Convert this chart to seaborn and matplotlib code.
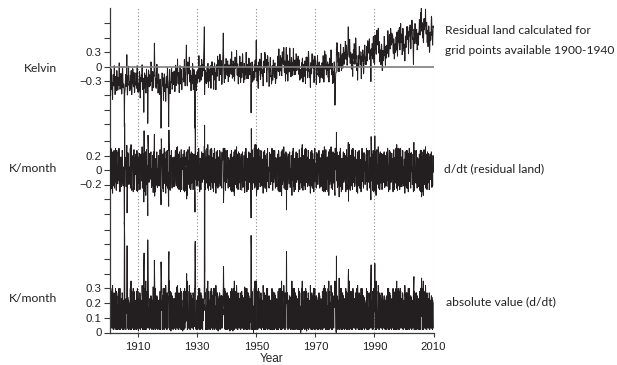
import numpy as np
import pandas as pd
import matplotlib
matplotlib.use("Agg")
import matplotlib.pyplot as plt
import seaborn as sns

# Monthly residual land temperature (hundredths of a kelvin), Jan 1900 .. Dec 2009
resid_cK = [
    -20, -23, -45, -43, -15, -13, -40, -60, -30, -33, -5, -22,      # 1900
    -48, -33, -36, -68, -43, -18, -16, -38, -40, -13, 2, -23,       # 1901
    -42, -58, -55, -25, -20, -22, -50, -35, -8, -10, -27, -30,      # 1902
    -49, -47, -22, -25, -39, -9, 8, -15, -17, -47, -45, -29,        # 1903
    -32, -14, -17, -40, -57, -54, -27, -2, -4, -22, -44, -40,       # 1904
    -36, -38, -50, -125, -60, -51, -48, -31, -16, -18, -41, -28,    # 1905
    -9, 25, -34, -59, -56, -32, -19, -21, 1, -19, -39, -36,         # 1906
    -32, -50, -48, -18, -20, -45, -10, -8, -30, -58, -38, -35,      # 1907
    -20, -4, -7, -37, -42, -40, -12, -27, -54, -52, -35, -32,       # 1908
    -38, -35, -13, -15, -43, -45, -18, 2, -28, -25, -53, -36,       # 1909
    -35, -53, -50, -27, -10, -13, -40, -65, -63, -45, -23, -27,     # 1910
    -16, -31, -28, 4, -21, -46, -48, -26, -24, -51, -95, -41,       # 1911
    -31, -13, -15, -45, -43, -18, -53, -55, -33, -5, -25, -28,      # 1912
    -22, -55, -118, -70, -32, -7, -10, -27, -42, -40, -17, -30,     # 1913
    -40, -37, -15, 10, 7, -17, -30, -28, -50, -30, -10, -13,        # 1914
    -44, -42, -17, -20, 0, 49, 13, -10, -12, -42, -40, -24,         # 1915
    -45, -42, -20, 5, 2, -22, -35, -33, -55, -35, -15, -18,         # 1916
    -33, -36, -58, -56, -28, -26, -53, -80, -128, -85, -50, -35,    # 1917
    -13, -15, -40, -37, -23, -53, -70, -47, -45, -15, -17, -33,     # 1918
    -52, -37, -40, -72, -47, -22, -20, -42, -44, -17, -2, -27,      # 1919
    -30, -48, -75, -125, -70, -43, -8, -6, -28, -56, -36, -33,      # 1920
    -32, -34, -7, -4, -22, -47, -44, -27, -12, -14, -37, -24,       # 1921
    -27, -9, -12, -35, -52, -49, -22, 3, 1, -17, -39, -35,          # 1922
    -4, -19, -16, 16, -9, -34, -36, -14, -12, -39, -54, -29,        # 1923
    -14, 2, -1, -31, -36, -34, -6, -21, -48, -46, -29, -26,         # 1924
    -25, -22, 0, -2, -30, -32, -5, 15, -15, -12, -40, -23,          # 1925
    -16, 2, 20, 45, 5, -3, -38, -40, -18, 10, -10, -13,             # 1926
    0, -15, -12, 20, -5, -30, -32, -10, -8, -35, -50, -25,          # 1927
    -18, -36, -33, -10, 7, 4, -23, -48, -46, -28, -6, -10,          # 1928
    -40, -70, -128, -66, -20, -17, -30, -28, -50, -30, -10, -13,    # 1929
    -34, -32, -7, -10, -24, 6, 23, 0, -2, -32, -30, -14,            # 1930
    0, 2, -25, -28, -10, 15, 12, -5, -20, -18, 5, -8,               # 1931
    0, 16, 35, 50, 83, -58, -30, -7, -34, -32, -15, -12,            # 1932
    -17, -35, -33, -3, -5, -30, 5, 7, -15, -43, -23, -20,           # 1933
    -5, -8, -30, -28, 0, 2, -25, -45, -15, -18, 10, -7,             # 1934
    10, 8, -17, -14, 0, -30, -47, -24, -22, 8, 6, -10,              # 1935
    -28, -13, -16, -48, -23, 2, 4, -18, -20, 7, 22, -3,             # 1936
    -4, 14, 11, -12, -29, -26, 1, 26, 24, 6, -16, -12,              # 1937
    13, 10, -12, -37, -34, -10, 3, 20, 40, 70, 25, -5,              # 1938
    -17, -33, -30, 0, 5, 3, -25, -10, 17, 15, -2, -5,               # 1939
    -16, -18, 9, 12, -6, -31, -28, -11, 4, 2, -21, -8,              # 1940
    -9, -6, 16, 14, -14, -16, 11, 31, 1, 4, -24, -7,                # 1941
    -6, 12, 10, -20, -18, 7, -28, -30, -8, 20, 0, -3,               # 1942
    14, -1, 2, 34, 9, -16, -18, 4, 6, -21, -36, -11,                # 1943
    -3, -21, -18, 5, 22, 19, -8, -33, -31, -13, 9, 5,               # 1944
    -23, -20, 2, 27, 24, 0, -13, -11, -33, -13, 7, 4,               # 1945
    -27, -25, 0, -3, -17, 13, 30, 7, 5, -25, -23, -7,               # 1946
    3, 5, -22, -25, -7, 18, 15, -2, -17, -15, 8, -5,                # 1947
    2, -30, -96, -39, -20, -18, 10, -5, -32, -30, -13, -10,         # 1948
    -10, -28, -26, 4, 2, -23, 12, 14, -8, -10, 25, 55,              # 1949
    20, -8, -30, -28, 0, 2, -25, -45, -15, -18, 10, -7,             # 1950
    -2, 16, 13, -10, -27, -24, 3, 28, 26, 8, -14, -10,              # 1951
    -20, -5, -8, -40, -15, 10, 12, -10, -12, 15, 30, 5,             # 1952
    25, 23, -2, 1, 15, -15, -32, -9, -7, 23, 21, 5,                 # 1953
    9, 6, -16, -41, -38, -14, -1, -3, 19, -1, -21, -18,             # 1954
    -20, -36, -33, -3, 2, 0, -28, -13, 14, 12, -5, -8,              # 1955
    -20, -22, 5, 8, -10, -35, -32, -15, 0, -2, -25, -12,            # 1956
    -3, 0, 22, 20, -8, -10, 17, 37, 7, 10, -18, -1,                 # 1957
    5, 23, 21, -9, -7, 18, -17, -19, 3, 31, 11, 8,                  # 1958
    20, 5, 8, 40, 15, -10, -12, 10, 12, -15, -30, -5,               # 1959
    20, 40, -15, 8, 25, 22, -5, -30, -28, -10, 12, 8,               # 1960
    -11, -8, 14, 39, 36, 12, -1, 1, -21, -1, 19, 16,                # 1961
    -19, -17, 8, 5, -9, 21, 38, 15, 13, -17, -15, 1,                # 1962
    12, 14, -13, -16, 2, 27, 24, 7, -8, -6, 17, 4,                  # 1963
    6, 22, 19, -11, -16, -14, 14, -1, -28, -26, -9, -6,             # 1964
    -6, -24, -22, 8, 6, -19, 16, 18, -4, -32, -12, -9,              # 1965
    5, 2, -20, -18, 10, 12, -15, -35, -5, -8, 20, 3,                # 1966
    2, 20, 17, -6, -23, -20, 7, 32, 30, 12, -10, -6,                # 1967
    -23, -8, -11, -43, -18, 7, 9, -13, -15, 12, 27, 2,              # 1968
    24, 22, -3, 0, 14, -16, -33, -10, -8, 22, 20, 4,                # 1969
    13, 10, -12, -37, -34, -10, 3, 1, 23, 3, -17, -14,              # 1970
    -18, -20, 7, 10, -8, -33, -30, -13, 2, 0, -23, -10,             # 1971
    -17, -14, 8, 6, -22, -24, 3, 23, -7, -4, -32, -15,              # 1972
    17, 33, 30, 0, -5, -3, 25, 10, -17, -15, 2, 5,                  # 1973
    -8, 10, 8, -22, -20, 5, -30, -32, -10, 18, -2, -5,              # 1974
    15, 0, 3, 35, 10, -15, -17, 5, 7, -20, -35, -10,                # 1975
    -15, -33, -30, -7, 10, -15, -45, -80, -50, -30, -15, -12,       # 1976
    -12, 40, 25, 50, 47, 23, 10, 12, -10, 10, 30, 27,               # 1977
    -10, -8, 17, 14, 0, 30, 47, 24, 22, -8, -6, 10,                 # 1978
    25, 27, 0, -3, 15, 40, 37, 20, 5, 7, 30, 17,                    # 1979
    37, 53, 50, 20, 15, 17, 45, 30, 3, 5, 22, 25,                   # 1980
    45, 83, 40, 47, 45, 20, 55, 57, 35, 7, 27, 30,                  # 1981
    20, 17, -5, -3, 25, 27, 0, -20, 10, 7, 35, 18,                  # 1982
    30, 48, 45, 22, 5, 8, 35, 60, 58, 40, 18, 22,                   # 1983
    -8, 7, 4, -28, -3, 22, 24, 2, 0, 27, 42, 17,                    # 1984
    32, 30, 5, 8, 22, -8, -25, -2, 0, 30, 28, 12,                   # 1985
    35, 32, 10, -15, -12, 12, 25, 23, 45, 25, 5, 8,                 # 1986
    20, 4, 7, 37, 42, 40, 12, 27, 54, 52, 35, 32,                   # 1987
    30, 28, 55, 58, 40, 15, 18, 35, 10, -31, 15, 38,                # 1988
    23, 26, 48, 46, 18, 16, 43, 63, 33, 36, 8, 25,                  # 1989
    5, 52, 66, 36, 38, 63, 28, 26, 48, 76, 56, 53,                  # 1990
    60, 45, 48, 80, 55, 30, 28, 50, 52, 25, 10, 35,                 # 1991
    22, 4, 7, 30, 47, 44, 17, -8, -6, 12, 34, 30,                   # 1992
    13, 16, 38, 63, 60, 36, 23, 25, 3, 23, 43, 40,                  # 1993
    18, 20, 45, 42, 28, 58, 75, 52, 50, 20, 22, 38,                 # 1994
    65, 67, 40, 37, 55, 80, 77, 60, 45, 47, 70, 57,                 # 1995
    50, 66, 63, 33, 28, 30, 58, 43, 16, 18, 35, 38,                 # 1996
    48, 30, 32, 62, 60, 35, 70, 72, 50, 22, 42, 45,                 # 1997
    75, 72, 50, 52, 80, 82, 55, 35, 65, 62, 90, 73,                 # 1998
    50, 68, 65, 42, 25, 28, 55, 80, 78, 60, 38, 42,                 # 1999
    32, 47, 44, 12, 37, 62, 64, 42, 40, 67, 82, 57,                 # 2000
    84, 82, 57, 60, 74, 44, 27, 50, 52, 82, 80, 64,                 # 2001
    87, 84, 62, 37, 40, 64, 77, 75, 97, 77, 57, 60,                 # 2002
    56, 35, 5, 40, 78, 76, 48, 63, 90, 88, 71, 68,                  # 2003
    50, 48, 75, 78, 60, 35, 38, 55, 70, 68, 45, 58,                 # 2004
    73, 76, 98, 96, 68, 66, 93, 113, 83, 95, 122, 85,               # 2005
    74, 92, 90, 60, 62, 87, 52, 50, 72, 100, 80, 77,                # 2006
    100, 85, 88, 120, 95, 70, 68, 90, 92, 65, 50, 75,               # 2007
    60, 42, 45, 68, 85, 82, 55, 30, 32, 50, 72, 68,                 # 2008
    55, 58, 80, 105, 102, 78, 65, 67, 45, 65, 85, 82,               # 2009
]
start_year = 1900

decade_lines = [1910, 1930, 1950, 1970, 1990, 2010]
x_ticks = [1910, 1930, 1950, 1970, 1990, 2010]

top_ticks = [0.9, 0.6, 0.3, 0.0, -0.3, -0.6, -0.9, -1.2]
top_labels = ["", "", "0.3", "0", "\u22120.3", "", "", ""]
mid_ticks = [0.4, 0.2, 0.0, -0.2, -0.4, -0.6]
mid_labels = ["", "0.2", "0", "\u22120.2", "", ""]
bot_ticks = [0.0, 0.1, 0.2, 0.3, 0.4, 0.5, 0.6, 0.7]
bot_labels = ["0", "0.1", "0.2", "0.3", "", "", "", ""]

# ---------------------------------------------------------------
resid = np.array(resid_cK, dtype=float) / 100.0
t = start_year + (np.arange(len(resid)) + 0.5) / 12.0
ddt = np.diff(resid)            # K / month
absd = np.abs(ddt)
df_top = pd.DataFrame({"t": t, "v": resid})
df_mid = pd.DataFrame({"t": t[1:], "v": ddt})
df_bot = pd.DataFrame({"t": t[1:], "v": absd})

sns.set_theme(style="ticks")
plt.rcParams["font.family"] = ["Liberation Sans", "DejaVu Sans"]

W, H = 617, 365
fig = plt.figure(figsize=(W / 100, H / 100), dpi=100)
x0, x1, y0, y1 = 109.5, 433.5, 8.0, 332.5
rect = [x0 / W, 1 - y1 / H, (x1 - x0) / W, (y1 - y0) / H]

ax_b = fig.add_axes(rect)
ax_m = fig.add_axes(rect, sharex=ax_b)
ax_t = fig.add_axes(rect, sharex=ax_b)

line_col = "#231f20"
spine_col = "#3a3a3a"

for ax in (ax_m, ax_t):
    ax.patch.set_visible(False)
    for s in ax.spines.values():
        s.set_visible(False)
    ax.tick_params(axis="x", bottom=False, labelbottom=False)
ax_b.patch.set_visible(False)
ax_b.spines["top"].set_visible(False)
ax_b.spines["right"].set_visible(False)
for s in ("left", "bottom"):
    ax_b.spines[s].set_color(spine_col)
    ax_b.spines[s].set_linewidth(0.9)

for yr in decade_lines:
    ax_b.axvline(yr, color="#8a8a8a", lw=0.8, ls=(0, (1, 2)), zorder=0)

sns.lineplot(data=df_bot, x="t", y="v", ax=ax_b, color=line_col, lw=0.7,
             estimator=None, zorder=2)
sns.lineplot(data=df_mid, x="t", y="v", ax=ax_m, color=line_col, lw=0.7,
             estimator=None, zorder=2)
sns.lineplot(data=df_top, x="t", y="v", ax=ax_t, color=line_col, lw=0.7,
             estimator=None, zorder=2)
ax_t.axhline(0, color="#7f7f7f", lw=1.2, zorder=3)

ax_b.set_xlim(1900.25, 2010.0)
ax_b.set_ylim(0, (y1 - y0) / 147.0)
ax_m.set_ylim(-(y1 - 170.0) / 72.5, (170.0 - y0) / 72.5)
ax_t.set_ylim(-(y1 - 66.7) / 48.0, (66.7 - y0) / 48.0)

ax_b.set_xticks(x_ticks)
ax_b.set_xticklabels([str(v) for v in x_ticks])
ax_b.tick_params(axis="x", direction="out", length=3, width=0.8, color=spine_col,
                 labelsize=8.2, pad=4, labelcolor="#222222")

for ax, tk, lb in ((ax_t, top_ticks, top_labels), (ax_m, mid_ticks, mid_labels),
                   (ax_b, bot_ticks, bot_labels)):
    ax.set_yticks(tk)
    ax.set_yticklabels(lb)
    ax.tick_params(axis="y", direction="out", length=4, width=0.8, color=spine_col,
                   labelsize=8.2, pad=1.5, labelcolor="#222222")
    ax.set_ylabel("")
ax_t.set_xlabel("")
ax_m.set_xlabel("")
ax_b.set_xlabel("Year", fontsize=8.5, labelpad=0.5, color="#222222")

def ftext(x, y, s, ha="left"):
    fig.text(x / W, 1 - y / H, s, ha=ha, va="center", fontsize=8.7,
             family=["Lato", "DejaVu Sans"], color="#222222")

ftext(57, 69, "Kelvin", ha="right")
ftext(57, 169, "K/month", ha="right")
ftext(57, 298, "K/month", ha="right")
ftext(445, 31, "Residual land calculated for")
ftext(445, 50, "grid points available 1900-1940")
ftext(444, 168.5, "d/dt (residual land)")
ftext(446, 302, "absolute value (d/dt)")

fig.savefig("out.png", dpi=100)
